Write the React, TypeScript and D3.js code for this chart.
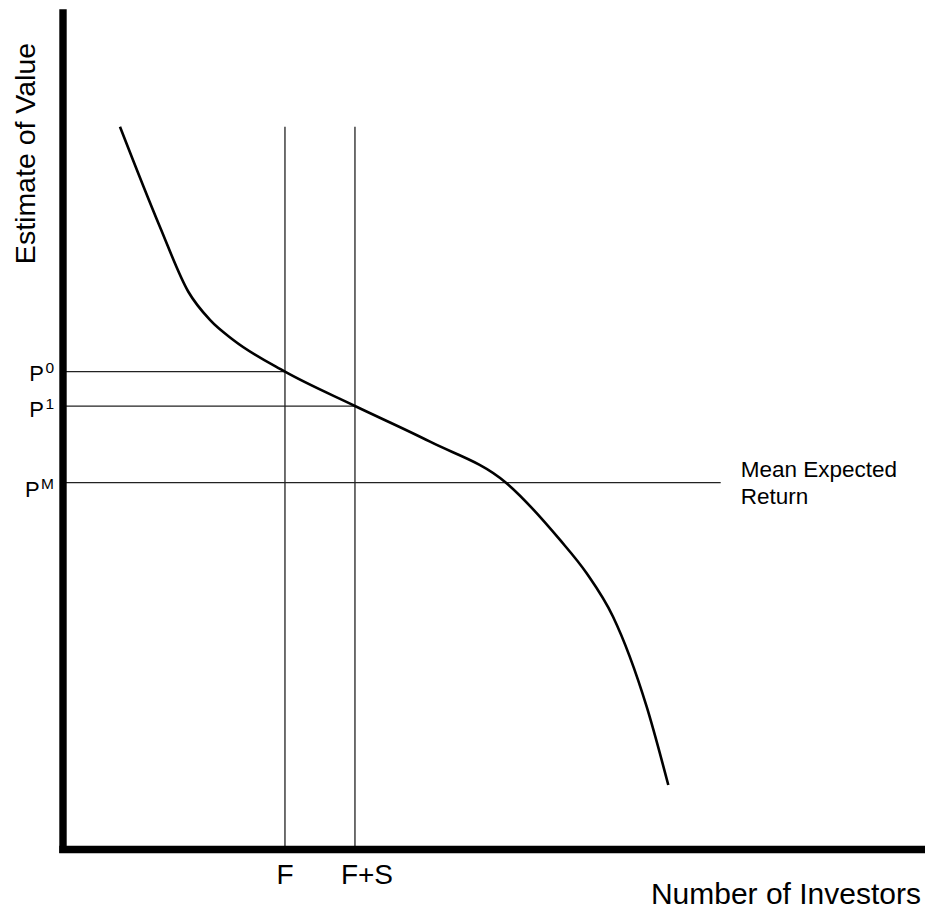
import React from "react";
import * as d3 from "d3";

// Demand curve: number of investors (x, 0-100) vs estimate of value (y, 0-100)
const curveX = [6.61, 11.25, 14.54, 17.05, 19.76, 25.75, 33.87, 42.58, 51.39, 57.66, 60.75, 63.81, 67.71, 70.22];
const curveY = [86.05, 74.12, 66.4, 63.04, 60.65, 56.88, 52.8, 48.55, 43.67, 36.85, 32.88, 27.71, 17.0, 7.68];

// Price levels (y) and labels
const priceLabels = ["0", "1", "M"];
const priceValues = [56.88, 52.78, 43.67];
const priceLineEnds = [25.75, 33.87, 76.3];

// Investor counts (x) and labels
const investorLabels = ["F", "F+S"];
const investorValues = [25.75, 33.87];
const investorLabelOffsets = [0, 12];
const verticalTop = 86.05;

const W = 930;
const H = 913;
const FONT = "'Liberation Sans', Arial, Helvetica, sans-serif";

export default function App() {
  const x = d3.scaleLinear().domain([0, 100]).range([63, 925]);
  const y = d3.scaleLinear().domain([0, 100]).range([849.5, 9.5]);

  const pts: [number, number][] = curveX.map((v, i) => [v, curveY[i]]);
  const line = d3
    .line<[number, number]>()
    .x((d) => x(d[0]))
    .y((d) => y(d[1]))
    .curve(d3.curveMonotoneX);

  return (
    <svg
      width={W}
      height={H}
      style={{ position: "absolute", left: 0, top: 0, background: "#fff" }}
      fontFamily={FONT}
    >
      {/* horizontal price lines */}
      {priceValues.map((p, i) => (
        <line
          key={"h" + i}
          x1={x(0) + 3}
          x2={x(priceLineEnds[i])}
          y1={y(p)}
          y2={y(p)}
          stroke="#222"
          strokeWidth={1.3}
        />
      ))}
      {/* vertical investor lines */}
      {investorValues.map((v, i) => (
        <line
          key={"v" + i}
          x1={x(v)}
          x2={x(v)}
          y1={y(verticalTop)}
          y2={y(0)}
          stroke="#222"
          strokeWidth={1.3}
        />
      ))}
      {/* curve */}
      <path d={line(pts) || ""} fill="none" stroke="#000" strokeWidth={2.6} />
      {/* axes */}
      <line x1={x(0)} x2={x(0)} y1={9.3} y2={853} stroke="#000" strokeWidth={7.4} />
      <line x1={59.3} x2={x(100)} y1={y(0)} y2={y(0)} stroke="#000" strokeWidth={7.4} />

      {/* price labels */}
      {priceValues.map((p, i) => (
        <text
          key={"pl" + i}
          x={54}
          y={y(p) + [9, 11, 14][i]}
          textAnchor="end"
          fontSize={22}
          fill="#000"
        >
          P
          <tspan dy={-8} fontSize={15.5} dx={1.5}>
            {priceLabels[i]}
          </tspan>
        </text>
      ))}

      {/* investor labels */}
      {investorValues.map((v, i) => (
        <text
          key={"il" + i}
          x={x(v) + investorLabelOffsets[i]}
          y={884.3}
          textAnchor="middle"
          fontSize={28}
          fill="#000"
        >
          {investorLabels[i]}
        </text>
      ))}

      {/* Mean expected return label */}
      <text x={740.7} y={476.7} fontSize={22.5} fill="#000">
        Mean Expected
      </text>
      <text x={740.7} y={504} fontSize={22.5} fill="#000">
        Return
      </text>

      {/* axis titles */}
      <text x={921} y={904} textAnchor="end" fontSize={30} fill="#000">
        Number of Investors
      </text>
      <text
        transform="translate(35,153.5) rotate(-90)"
        textAnchor="middle"
        fontSize={28.5}
        fill="#000"
      >
        Estimate of Value
      </text>
    </svg>
  );
}
